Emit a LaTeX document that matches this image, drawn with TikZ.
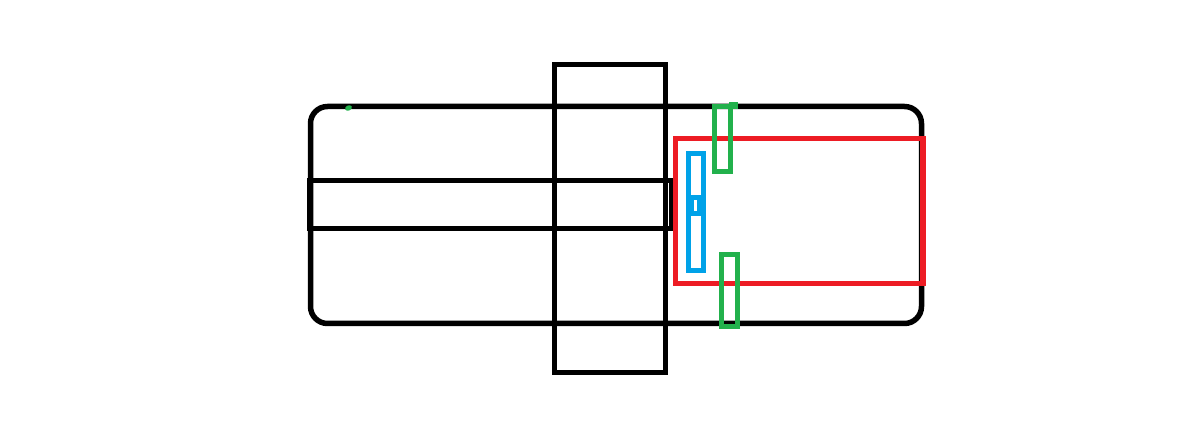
\documentclass[tikz,border=0pt]{standalone}
\definecolor{paintred}{HTML}{ED1C24}
\definecolor{paintgreen}{HTML}{22B14C}
\definecolor{paintblue}{HTML}{00A2E8}
\tikzset{
  px/.style={x=1bp,y=-1bp},
  outline/.style={line width=5.5bp,line join=miter},
}
\begin{document}
\begin{tikzpicture}[px]
\useasboundingbox[fill=white] (0,0) rectangle (1188,445);
% black shapes
\draw[outline,black,rounded corners=17bp] (310.5,106.5) rectangle (921.5,323.5);
\draw[outline,black] (554.5,64.5) rectangle (665.5,372.5);
\draw[outline,black] (673,180.5) -- (309.5,180.5) -- (309.5,228.5) -- (673,228.5);
\fill[black] (669.3,178) rectangle (673,231);
% red
\draw[outline,paintred] (675.5,138.5) rectangle (923,283.5);
% blue
\draw[outline,paintblue] (688.5,153.5) rectangle (703.5,270.5);
\fill[paintblue] (688,195) rectangle (706,216);
\fill[white] (694,200) rectangle (697,211);
% green
\draw[outline,paintgreen] (714.5,106.5) rectangle (730.5,171.5);
\fill[paintgreen] (729,102) rectangle (738,109);
\draw[outline,paintgreen] (721.5,254.5) rectangle (737.5,326.5);
\fill[paintgreen,rotate around={25:(348.5,108)}] (348.5,108) ellipse (3.6bp and 2.6bp);
\end{tikzpicture}
\end{document}
